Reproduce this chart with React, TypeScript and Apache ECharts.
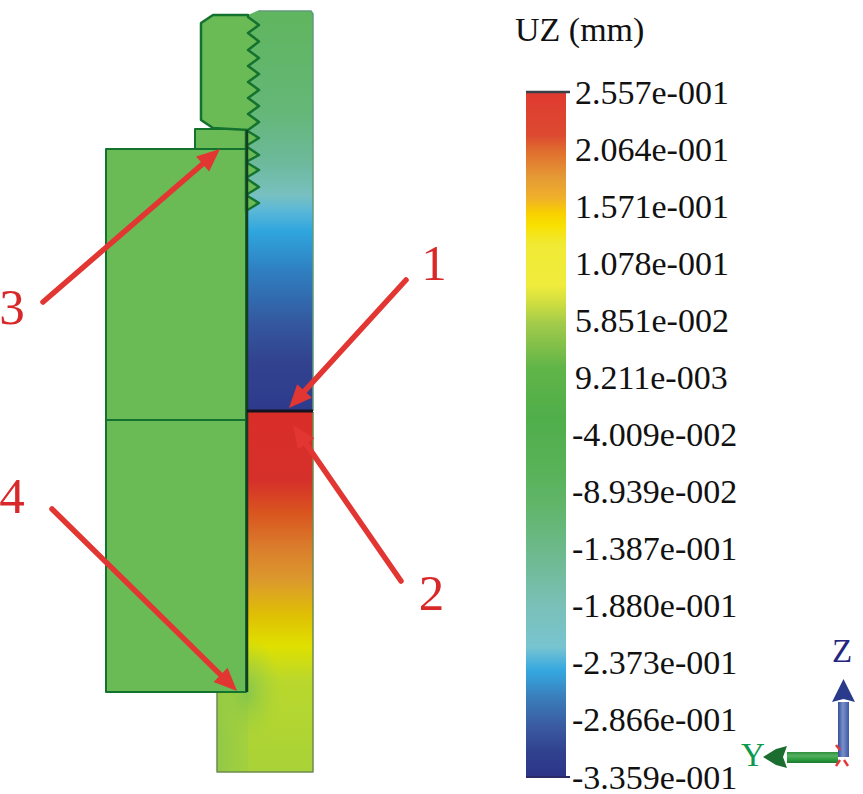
import React, { useEffect, useRef } from "react";
import * as echarts from "echarts";

// Colour bar
const LEGEND_TITLE = "UZ (mm)";
const TICK_VALUES = [0.2557, 0.2064, 0.1571, 0.1078, 0.05851, 0.009211, -0.04009, -0.08939, -0.1387, -0.188, -0.2373, -0.2866, -0.3359];
const TICK_LABELS = ["2.557e-001", "2.064e-001", "1.571e-001", "1.078e-001", "5.851e-002", "9.211e-003", "-4.009e-002", "-8.939e-002", "-1.387e-001", "-1.880e-001", "-2.373e-001", "-2.866e-001", "-3.359e-001"];
const BAR_COLORS: [number, string][] = [
  [0, "#e03a30"], [0.063, "#dc4a30"], [0.088, "#e0702f"], [0.125, "#e59a35"], [0.155, "#f0b02a"], [0.177, "#f8d000"],
  [0.194, "#f8e000"], [0.223, "#f0ea35"], [0.282, "#f0ec3c"], [0.307, "#d0de40"], [0.34, "#a0ca4a"], [0.403, "#60b548"],
  [0.476, "#50ae4a"], [0.55, "#58b258"], [0.6, "#60b568"], [0.667, "#6cb98a"], [0.75, "#7ac0b8"], [0.81, "#78c4d0"],
  [0.844, "#35a8e0"], [0.888, "#3a7ab8"], [0.927, "#3a5aa0"], [0.965, "#30408e"], [1, "#2c3488"],
];
// Model outline, in the picture's drawing units
const THREAD_CRESTS = [25, 41.5, 58, 74, 90, 106, 122, 138, 155, 170, 187, 203];
const THREAD_ROOTS = [17, 33, 50, 66, 82, 98, 114, 130, 146, 162, 178, 195, 211];
const UPPER_STOPS: [number, string][] = [[0, "#60b55e"], [0.25, "#64b777"], [0.38, "#6db99c"], [0.46, "#78c0c0"], [0.5, "#5ab7d8"], [0.55, "#2fa6de"], [0.65, "#2f7fc0"], [0.78, "#34589f"], [0.88, "#32428f"], [1, "#2e3b8d"]];
const LOWER_STOPS: [number, string][] = [[0, "#d92d28"], [0.19, "#d6302a"], [0.28, "#d9551f"], [0.375, "#da7c2c"], [0.47, "#dc9a2d"], [0.56, "#dfbe05"], [0.65, "#dfe000"], [0.745, "#bad82c"], [1, "#a8d238"]];
const BODY = "#6aba55";
const EDGE = "#14722f";

const zig: number[][] = [];
THREAD_ROOTS.forEach((r, i) => {
  zig.push([248, r]);
  if (i < THREAD_CRESTS.length) zig.push([259, THREAD_CRESTS[i]]);
});
const upperZig = zig.filter((p) => p[1] <= 130);

const grad = (stops: [number, string][], x2 = 0, y2 = 1) =>
  new echarts.graphic.LinearGradient(0, 0, x2, y2, stops.map(([offset, color]) => ({ offset, color })));

type Shape = { pts: number[][]; fill: any; stroke?: string; width?: number; open?: boolean };
const SHAPES: Shape[] = [
  { pts: [[248, 15], [257, 11], [311, 11], [313, 14], [313, 411], [248, 411], ...[...zig].reverse()], fill: grad(UPPER_STOPS) },
  { pts: [[217, 692], [252, 692], [252, 772], [217, 772]], fill: grad([[0, "#92c948"], [1, "#a6d13b"]], 1, 0) },
  { pts: [[248, 412], [313, 412], [313, 772], [248, 772]], fill: grad(LOWER_STOPS) },
  {
    pts: [[217, 692], [248, 692], [248, 640], [300, 640], [300, 772], [217, 772]],
    fill: new echarts.graphic.RadialGradient(0.36, 0.394, 0.42, [
      { offset: 0, color: "rgba(130,196,78,0.9)" },
      { offset: 0.5, color: "rgba(150,204,66,0.5)" },
      { offset: 1, color: "rgba(168,210,56,0)" },
    ]),
  },
  { pts: [[217, 692], [217, 772], [313, 772], [313, 412]], fill: "none", stroke: "#6e8a50", width: 1.5, open: true },
  { pts: [[258, 11], [311, 11], [313, 14], [313, 411]], fill: "none", stroke: "#5f9a7a", width: 1.5, open: true },
  { pts: [[106, 149], [246, 149], [246, 420], [106, 420]], fill: BODY, stroke: EDGE, width: 2 },
  { pts: [[106, 420], [246, 420], [246, 692], [106, 692]], fill: BODY, stroke: EDGE, width: 2 },
  { pts: [[195, 129], [246, 129], [246, 149], [195, 149]], fill: BODY, stroke: EDGE, width: 2 },
  { pts: [[201, 23], [213, 15], [248, 15], ...upperZig, [213, 128], [201, 120]], fill: BODY, stroke: EDGE, width: 2.5 },
  { pts: [[246, 130], [259, 138], [246, 146]], fill: BODY, stroke: EDGE, width: 2.5 },
  { pts: [[246, 146], [259, 155], [246, 162]], fill: BODY, stroke: EDGE, width: 2.5 },
  { pts: [[246, 162], [259, 170], [246, 178]], fill: BODY, stroke: EDGE, width: 2.5 },
  { pts: [[246, 178], [259, 187], [246, 195]], fill: BODY, stroke: EDGE, width: 2.5 },
  { pts: [[246, 195], [259, 203], [246, 211]], fill: BODY, stroke: EDGE, width: 2.5 },
  { pts: [[247, 130], [247, 692]], fill: "none", stroke: "#123f20", width: 2.5, open: true },
  { pts: [[247, 411], [313, 411]], fill: "none", stroke: "#14141e", width: 3, open: true },
  // triad
  { pts: [[787, 752], [838, 752], [838, 763], [787, 763]], fill: grad([[0, "#2f8f3c"], [0.35, "#55b060"], [0.7, "#2a9a3c"], [1, "#1f7a32"]]) },
  { pts: [[763, 757], [776, 749], [787, 746], [783, 757], [787, 768], [776, 765]], fill: "#1c6d30" },
  { pts: [[838, 702], [849, 702], [849, 757], [838, 757]], fill: grad([[0, "#34509e"], [0.45, "#7a90c8"], [1, "#3c58a8"]], 1, 0) },
  { pts: [[843.5, 679], [850, 692], [855, 702], [843.5, 699], [832, 702], [837, 692]], fill: "#2b3b8c" },
  { pts: [[836, 745], [840, 750]], fill: "none", stroke: "#e23a3a", width: 2.5, open: true },
  { pts: [[836, 766], [840, 760]], fill: "none", stroke: "#e23a3a", width: 2.5, open: true },
  { pts: [[844, 760], [848, 766]], fill: "none", stroke: "#e23a3a", width: 2.5, open: true },
];

// callout arrows: [from x, from y, tip x, tip y]
const ARROWS = [
  [406, 280, 289, 408],
  [401, 581, 293, 425],
  [43, 302, 220, 149],
  [52, 509, 237, 691],
];
const ARROW_COLOR = "#e23632";
const CALLOUTS: [string, number, number][] = [["1", 434, 263], ["2", 431.5, 593], ["3", 12, 307], ["4", 12, 496]];

const FONT = "'Liberation Serif', serif";

export default function App() {
  const ref = useRef<HTMLDivElement>(null);
  useEffect(() => {
    document.body.style.margin = "0";
    const chart = echarts.init(ref.current!, null, { renderer: "svg" });
    chart.setOption({
      animation: false,
      backgroundColor: "#fff",
      grid: [
        { left: 0, top: 0, width: 863, height: 794 },
        { left: 526, top: 92, width: 40, height: 685 },
      ],
      xAxis: [
        { gridIndex: 0, type: "value", min: 0, max: 863, show: false },
        { gridIndex: 1, type: "value", min: 0, max: 1, show: false },
      ],
      yAxis: [
        { gridIndex: 0, type: "value", min: 0, max: 794, inverse: true, show: false },
        {
          gridIndex: 1,
          type: "value",
          position: "right",
          min: -0.3359,
          max: 0.2557,
          axisLine: { show: false },
          splitLine: { show: false },
          axisTick: { show: true, length: 4, customValues: TICK_VALUES, lineStyle: { color: "#222", width: 2 } },
          axisLabel: {
            show: true,
            customValues: TICK_VALUES,
            margin: 6,
            fontFamily: FONT,
            fontSize: 34,
            color: "#111",
            rich: {
              pos: { fontFamily: FONT, fontSize: 34, color: "#111", padding: [0, 0, 0, 3] },
              neg: { fontFamily: FONT, fontSize: 34, color: "#111" },
            },
            formatter: (v: number) => {
              const i = TICK_VALUES.findIndex((t) => Math.abs(t - v) < 1e-6);
              if (i < 0) return "";
              return `{${v < 0 ? "neg" : "pos"}|${TICK_LABELS[i]}}`;
            },
          },
        },
      ],
      series: [
        {
          type: "custom",
          xAxisIndex: 0,
          yAxisIndex: 0,
          clip: false,
          silent: true,
          data: SHAPES.map((_, i) => [i]),
          renderItem: (params: any, api: any) => {
            const s = SHAPES[params.dataIndex];
            const points = s.pts.map((p) => api.coord(p));
            return {
              type: s.open ? "polyline" : "polygon",
              shape: { points },
              style: { fill: s.open ? null : s.fill, stroke: s.stroke ?? null, lineWidth: s.width ?? 0, lineJoin: "round" },
            };
          },
        },
        {
          type: "custom",
          xAxisIndex: 1,
          yAxisIndex: 1,
          clip: false,
          silent: true,
          data: [[0, 1, TICK_VALUES[0], TICK_VALUES[TICK_VALUES.length - 1]]],
          renderItem: (_: any, api: any) => {
            const a = api.coord([api.value(0), api.value(2)]);
            const b = api.coord([api.value(1), api.value(3)]);
            return {
              type: "group",
              children: [
                { type: "rect", shape: { x: a[0], y: a[1], width: b[0] - a[0], height: b[1] - a[1] }, style: { fill: grad(BAR_COLORS) } },
                { type: "line", shape: { x1: a[0], y1: a[1], x2: b[0] + 4, y2: a[1] }, style: { stroke: "#3a4048", lineWidth: 2.5 } },
                { type: "line", shape: { x1: a[0], y1: b[1], x2: b[0] + 4, y2: b[1] }, style: { stroke: "#2a2a66", lineWidth: 2 } },
              ],
            };
          },
        },
        {
          type: "custom",
          xAxisIndex: 0,
          yAxisIndex: 0,
          clip: false,
          silent: true,
          data: ARROWS,
          renderItem: (_: any, api: any) => {
            const from = api.coord([api.value(0), api.value(1)]);
            const tip = api.coord([api.value(2), api.value(3)]);
            const dx = tip[0] - from[0];
            const dy = tip[1] - from[1];
            const len = Math.hypot(dx, dy);
            const ux = dx / len;
            const uy = dy / len;
            const hl = 23;
            const hw = 10;
            const bx = tip[0] - ux * hl;
            const by = tip[1] - uy * hl;
            return {
              type: "group",
              children: [
                { type: "line", shape: { x1: from[0], y1: from[1], x2: bx, y2: by }, style: { stroke: ARROW_COLOR, lineWidth: 5.5, lineCap: "round" } },
                { type: "polygon", shape: { points: [tip, [bx - uy * hw, by + ux * hw], [bx + uy * hw, by - ux * hw]] }, style: { fill: ARROW_COLOR } },
              ],
            };
          },
        },
      ],
      graphic: [
        { type: "text", left: 515, top: 12, style: { text: LEGEND_TITLE, font: `34px ${FONT}`, fill: "#111" } },
        ...CALLOUTS.map(([text, x, y]) => ({
          type: "text",
          x,
          y,
          style: { text, font: `51px ${FONT}`, fill: "#d8282a", align: "center", verticalAlign: "middle" },
        })),
        { type: "text", x: 842, y: 651, style: { text: "Z", font: `33px ${FONT}`, fill: "#26267e", align: "center", verticalAlign: "middle" } },
        { type: "text", x: 753, y: 755, style: { text: "Y", font: `33px ${FONT}`, fill: "#0c9a4c", align: "center", verticalAlign: "middle" } },
      ],
    });
    return () => chart.dispose();
  }, []);
  return <div ref={ref} style={{ width: 863, height: 794 }} />;
}
